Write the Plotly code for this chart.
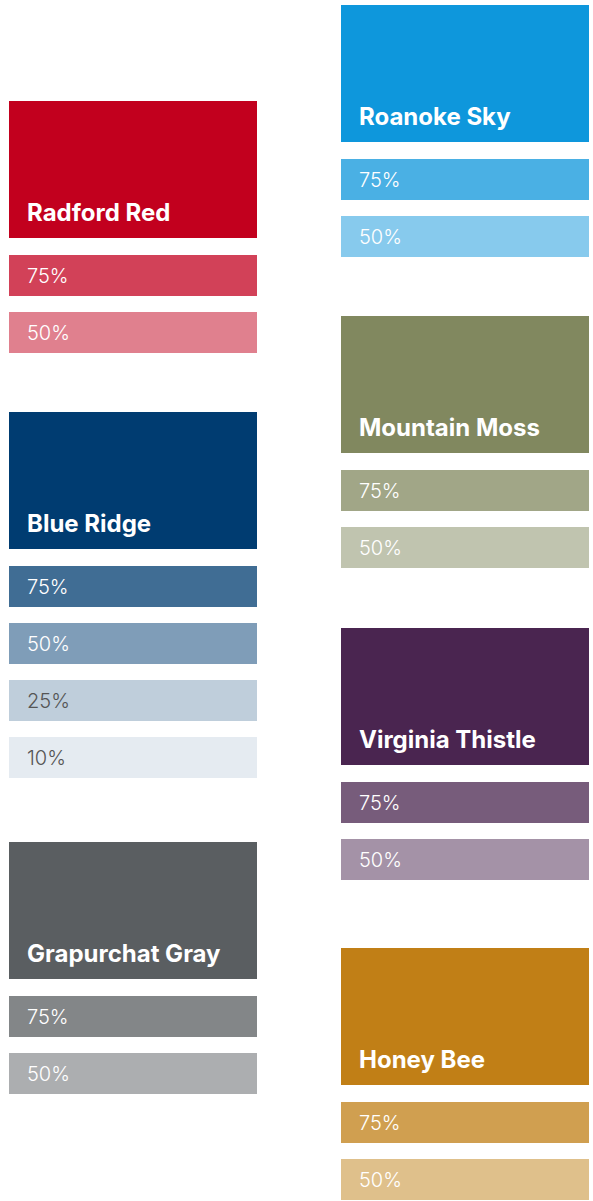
import plotly.graph_objects as go

# ---- data ----
color_names = ["Radford Red", "Blue Ridge", "Grapurchat Gray",
               "Roanoke Sky", "Mountain Moss", "Virginia Thistle", "Honey Bee"]
base_colors = ["#C2001E", "#003C71", "#5A5E61",
               "#0E97DC", "#81885F", "#4A2550", "#C17F16"]
tint_labels = [
    ["75%", "50%"],
    ["75%", "50%", "25%", "10%"],
    ["75%", "50%"],
    ["75%", "50%"],
    ["75%", "50%"],
    ["75%", "50%"],
    ["75%", "50%"],
]
tint_colors = [
    ["#D24158", "#E0808E"],
    ["#406D94", "#7F9DB8", "#BFCEDB", "#E5EBF1"],
    ["#838688", "#ACAEB0"],
    ["#4AB0E4", "#87CAED"],
    ["#A1A687", "#C0C4AF"],
    ["#775C7B", "#A492A7"],
    ["#D09F50", "#DFC08B"],
]
dark_text_tints = ["25%", "10%"]

# ---- layout (pixel space) ----
W, H = 593, 1201
col_left = [9, 341]
col_of_group = [0, 0, 0, 1, 1, 1, 1]
group_top = [101, 412, 842, 5, 316, 628, 948]
swatch_w = 248
main_h = 137
tint_h = 41
first_tint_offset = 153.5
tint_step = 57
text_pad = 16.5

fig = go.Figure()
annotations = []

for gi, name in enumerate(color_names):
    x0 = col_left[col_of_group[gi]]
    top = group_top[gi]
    xs, bases, hs, cols = [x0 + swatch_w / 2], [top], [main_h], [base_colors[gi]]
    annotations.append(dict(
        x=x0 + text_pad, y=top + main_h - 26, xref="x", yref="y",
        text=f"<b>{name}</b>", showarrow=False, xanchor="left", yanchor="middle",
        borderpad=0, font=dict(family="Inter", size=24, color="white")))
    for ti, (lab, c) in enumerate(zip(tint_labels[gi], tint_colors[gi])):
        t = top + first_tint_offset + ti * tint_step
        xs.append(x0 + swatch_w / 2)
        bases.append(t)
        hs.append(tint_h)
        cols.append(c)
        annotations.append(dict(
            x=x0 + text_pad, y=t + tint_h / 2 + 1, xref="x", yref="y",
            text=lab, showarrow=False, xanchor="left", yanchor="middle",
            borderpad=0,
            font=dict(family="Inter", size=20, weight=300,
                      color="#555555" if lab in dark_text_tints else "white")))
    fig.add_trace(go.Bar(x=xs, y=hs, base=bases, width=swatch_w,
                         marker=dict(color=cols, line=dict(width=0)),
                         hoverinfo="skip", name=name, showlegend=False))

fig.update_layout(
    width=W, height=H, margin=dict(l=0, r=0, t=0, b=0),
    paper_bgcolor="white", plot_bgcolor="white",
    xaxis=dict(range=[0, W], visible=False, fixedrange=True),
    yaxis=dict(range=[H, 0], visible=False, fixedrange=True),
    barmode="overlay", bargap=0, annotations=annotations, showlegend=False,
)

fig.write_html(
    "out.html", config={"displayModeBar": False},
    post_script="document.body.style.margin='0';document.body.style.overflow='hidden';",
)
